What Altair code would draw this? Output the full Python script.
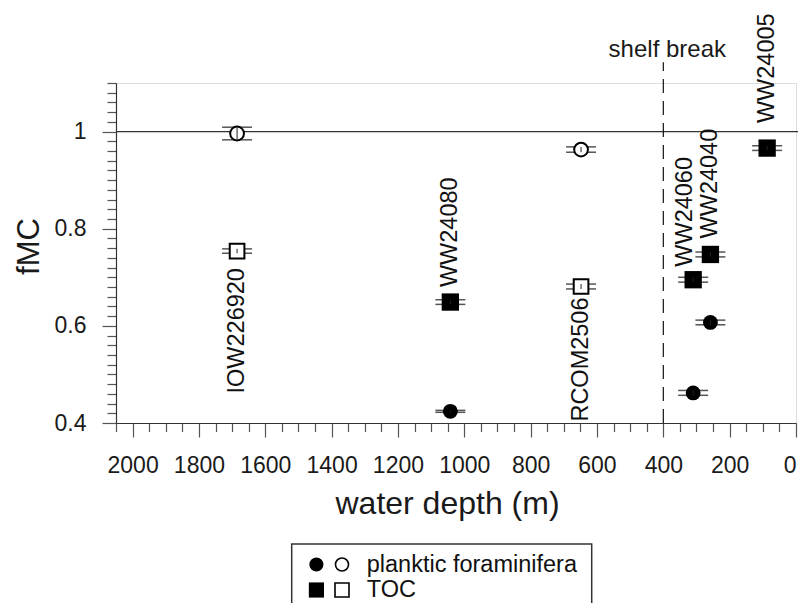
import altair as alt
import pandas as pd

# ---------------- data ----------------
stations = ["IOW226920", "WW24080", "RCOM2506", "WW24060", "WW24040", "WW24005"]
depth_m = [1685, 1042, 648, 310, 258, 87]
hollow = [True, False, True, False, False, False]
foram_fmc = [0.996, 0.424, 0.963, 0.462, 0.607, None]
foram_err = [0.013, 0.002, 0.0055, 0.005, 0.0048, None]
toc_fmc = [0.754, 0.649, 0.681, 0.695, 0.747, 0.966]
toc_err = [0.0045, 0.0048, 0.005, 0.005, 0.005, 0.0048]

shelf_break_depth = [400]
reference_fmc = [1.0]

legend_labels = ["planktic foraminifera", "TOC"]
legend_shapes = ["circle", "square"]

x_major = list(range(0, 2001, 200))
x_minor = [v for v in range(0, 2051, 50) if v % 200 != 0]
y_major = [0.4, 0.6, 0.8, 1.0]
y_minor = [round(0.4 + 0.02 * i, 2) for i in range(1, 36) if i % 10 != 0]

# ---------------- tables ----------------
rows = []
for i, s in enumerate(stations):
    if foram_fmc[i] is not None:
        rows.append(dict(station=s, depth=depth_m[i], fmc=foram_fmc[i], err=foram_err[i],
                         kind="foram", hollow=hollow[i]))
    rows.append(dict(station=s, depth=depth_m[i], fmc=toc_fmc[i], err=toc_err[i],
                     kind="toc", hollow=hollow[i]))
df = pd.DataFrame(rows)
df["lo"] = df["fmc"] - df["err"]
df["hi"] = df["fmc"] + df["err"]
caps = pd.concat([
    df[["station", "depth"]].assign(yv=df["lo"]),
    df[["station", "depth"]].assign(yv=df["hi"]),
])
toc_df = df[df["kind"] == "toc"]

FONT = "Liberation Sans"
xscale = alt.Scale(domain=[0, 2050], reverse=True, nice=False, zero=False)
yscale = alt.Scale(domain=[0.4, 1.1], nice=False, zero=False)

x_major_axis = alt.Axis(orient="bottom", values=x_major, format="d", tickSize=14, tickWidth=1.2,
                        tickColor="#555", domainColor="#333", domainWidth=1.2, grid=False,
                        labelFontSize=23, labelPadding=17, labelColor="#1a1a1a", labelFont=FONT,
                        labelFlush=True, labelOverlap=False,
                        title="water depth (m)", titleFontSize=32, titleFont=FONT,
                        titleFontWeight="normal", titleColor="#1a1a1a",
                        titleX=331, titleY=65, titleBaseline="top", titleAlign="center")
y_major_axis = alt.Axis(orient="left", values=y_major, format="~g", tickSize=14, tickWidth=1.2,
                        tickColor="#555", domainColor="#333", domainWidth=1.2, grid=False,
                        labelFontSize=23, labelPadding=16, labelColor="#1a1a1a", labelFont=FONT,
                        labelFlush=False, labelOverlap=False,
                        title="fMC", titleFontSize=31, titleFont=FONT, titleFontWeight="normal",
                        titleColor="#1a1a1a", titleX=-71, titleY=163, titleAngle=270,
                        titleBaseline="bottom", titleAlign="center")
x_minor_axis = alt.Axis(orient="bottom", values=x_minor, labels=False, domain=False, grid=False,
                        tickSize=8.5, tickWidth=1.2, tickColor="#555", title=None)
y_minor_axis = alt.Axis(orient="left", values=y_minor, labels=False, domain=False, grid=False,
                        tickSize=9, tickWidth=1.2, tickColor="#555", title=None)


def X(field, axis=None):
    return alt.X(field, type="quantitative", scale=xscale, axis=axis)


def Y(field, axis=None):
    return alt.Y(field, type="quantitative", scale=yscale, axis=axis)


# reference line fMC = 1 (carries the minor-tick axes)
hline_df = pd.DataFrame({"x0": [2050], "x1": [-40], "y": reference_fmc})
hline = alt.Chart(hline_df).mark_rule(color="#333", strokeWidth=1.2).encode(
    x=X("x0", x_minor_axis), x2="x1", y=Y("y", y_minor_axis))

# shelf break
sb_df = pd.DataFrame({"x": shelf_break_depth, "y0": [0.4], "y1": [1.1426], "yt": [1.154],
                      "t": ["shelf break"]})
sb_line = alt.Chart(sb_df).mark_rule(color="#111", strokeWidth=1.2, strokeDash=[14, 8]).encode(
    x=X("x"), y=Y("y0"), y2="y1")
sb_text = alt.Chart(sb_df).mark_text(fontSize=24, font=FONT, color="#1a1a1a", align="center",
                                     baseline="alphabetic", dx=4).encode(
    x=X("x"), y=Y("yt"), text="t:N")

# error bars
caps_layer = alt.Chart(caps).mark_tick(orient="horizontal", size=30, thickness=1.5,
                                       color="#555", opacity=1).encode(x=X("depth"), y=Y("yv"))
err_rule = alt.Chart(df).mark_rule(color="#222", strokeWidth=1).encode(
    x=X("depth"), y=Y("lo"), y2="hi")

# symbols
base = alt.Chart(df)
filled_c = base.transform_filter("datum.kind == 'foram' && !datum.hollow").mark_point(
    shape="circle", filled=True, color="black", size=220, opacity=1).encode(
    x=X("depth", x_major_axis), y=Y("fmc", y_major_axis))
open_c = base.transform_filter("datum.kind == 'foram' && datum.hollow").mark_point(
    shape="circle", fill="white", fillOpacity=1, stroke="black", strokeWidth=2, size=190,
    opacity=1).encode(x=X("depth"), y=Y("fmc"))
filled_s = base.transform_filter("datum.kind == 'toc' && !datum.hollow").mark_point(
    shape="square", filled=True, color="black", size=300, opacity=1).encode(
    x=X("depth"), y=Y("fmc"))
open_s = base.transform_filter("datum.kind == 'toc' && datum.hollow").mark_point(
    shape="square", fill="white", fillOpacity=1, stroke="black", strokeWidth=2, size=215,
    opacity=1).encode(x=X("depth"), y=Y("fmc"))

# station labels (rotated), anchored on the TOC symbol
label_style = {
    "IOW226920": ("right", -17, 0),
    "WW24080": ("left", 15, 0),
    "RCOM2506": ("right", -11, 0),
    "WW24060": ("left", 13, -8),
    "WW24040": ("left", 16, 0),
    "WW24005": ("left", 25, 0),
}
label_layers = []
for s in stations:
    align, dx, dy = label_style[s]
    label_layers.append(
        alt.Chart(toc_df).transform_filter(alt.datum.station == s).mark_text(
            angle=270, align=align, baseline="middle", dx=dx, dy=dy, fontSize=23.5, font=FONT,
            color="#111").encode(x=X("depth"), y=Y("fmc"), text="station:N"))

# legend (drawn in pixel space below the plot)
leg_box = alt.Chart(pd.DataFrame({"t": legend_labels[:1]})).mark_rect(
    fillOpacity=0, stroke="#333", strokeWidth=1.5).encode(
    x=alt.value(175.7), x2=alt.value(475.7), y=alt.value(461), y2=alt.value(545))
leg_layers = [leg_box]
row_y = [481.5, 507.0]
for i, lab in enumerate(legend_labels):
    one = pd.DataFrame({"t": [lab]})
    shp = legend_shapes[i]
    fsize = 200 if shp == "circle" else 230
    leg_layers.append(alt.Chart(one).mark_point(shape=shp, filled=True, color="black",
                                                size=fsize, opacity=1).encode(
        x=alt.value(200.4), y=alt.value(row_y[i])))
    leg_layers.append(alt.Chart(one).mark_point(shape=shp, fill="white", fillOpacity=1,
                                                stroke="black", strokeWidth=1.6,
                                                size=fsize * 0.85, opacity=1).encode(
        x=alt.value(226.0), y=alt.value(row_y[i])))
    leg_layers.append(alt.Chart(one).mark_text(align="left", baseline="middle", fontSize=23.5,
                                               font=FONT, color="#111").encode(
        x=alt.value(250.7), y=alt.value(row_y[i]), text="t:N"))

chart = alt.layer(
    hline, sb_line, sb_text, caps_layer, filled_c, open_c, filled_s, open_s, err_rule,
    *label_layers, *leg_layers
).resolve_axis(x="independent", y="independent").properties(
    width=680, height=340,
    autosize=alt.AutoSizeParams(type="none"),
    padding={"left": 108, "top": 75, "right": 2, "bottom": 180},
).configure_view(stroke=None).configure(font=FONT)

chart.save("out.html", embed_options={"renderer": "svg", "actions": False})
